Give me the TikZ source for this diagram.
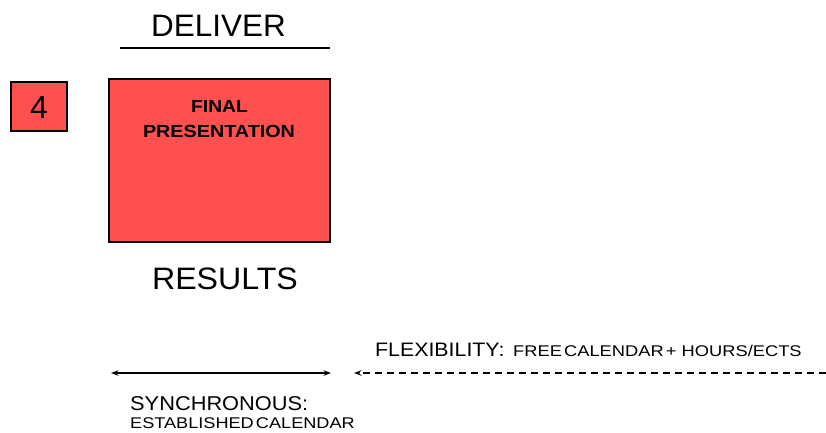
\documentclass[tikz,border=0pt]{standalone}
\usepackage{fontspec}
\setmainfont{Liberation Sans}
\usetikzlibrary{arrows.meta}
\definecolor{boxred}{HTML}{FF5050}
\tikzset{
  redbox/.style={draw=black, fill=boxred, line width=1.4pt, inner sep=0pt},
  txt/.style={inner sep=0pt, text=black},
  tip/.tip={Stealth[length=7.5pt,width=5.5pt]},
  arr/.style={line width=1.3pt, -tip},
}
\newcommand{\fs}[1]{\fontsize{#1}{#1}\selectfont}
\newcommand{\widen}[2]{\scalebox{#1}[1]{#2}}
\begin{document}
\begin{tikzpicture}[x=1pt,y=-1pt]
\useasboundingbox (0,0) rectangle (826,432);
% header
\node[txt, anchor=base, font=\fs{31}] (deliver) at (218.5,36) {\widen{1.015}{DELIVER}};
\coordinate (ul) at (120,48);
\coordinate (ur) at (330,48);
\draw[line width=1.4pt] (ul) -- (ur);
% number box
\node[redbox, minimum width=56pt, minimum height=49pt] (numbox) at (39,106.5) {};
\node[txt, anchor=base, font=\fs{32}] (num) at (39,118) {4};
% main box
\node[redbox, minimum width=221pt, minimum height=163pt] (main) at (219.5,160.5) {};
\node[txt, anchor=base, font=\bfseries\fs{17.5}] (fin) at (219.5,112) {\widen{1.1}{FINAL}};
\node[txt, anchor=base, font=\bfseries\fs{17.5}] (pres) at (219,137) {\widen{1.13}{PRESENTATION}};
% results
\node[txt, anchor=base, font=\fs{31}] (results) at (225,289) {\widen{1.036}{RESULTS}};
% flexibility
\node[txt, anchor=base west, font=\fs{19.5}] (flex) at (375,356.5) {\widen{1.094}{FLEXIBILITY:}};
\node[txt, anchor=base west, font=\fs{15.5}] (free) at (513,356.5) {\widen{1.18}{FREE\hspace{0.12em}CALENDAR\hspace{0.12em}+ HOURS/ECTS}};
% arrows
\coordinate (sl) at (111,373);
\coordinate (sr) at (331,373);
\draw[arr, tip-tip] (sl) -- (sr);
\coordinate (fl) at (354,373);
\coordinate (fr) at (826,373);
\draw[arr, dash pattern=on 7pt off 5pt] (fr) -- (fl);
% synchronous
\node[txt, anchor=base west, font=\fs{20}] (sync) at (130,410) {\widen{1.09}{SYNCHRONOUS:}};
\node[txt, anchor=base west, font=\fs{15.5}] (estab) at (130,428) {\widen{1.17}{ESTABLISHED\hspace{0.12em}CALENDAR}};
\end{tikzpicture}
\end{document}
